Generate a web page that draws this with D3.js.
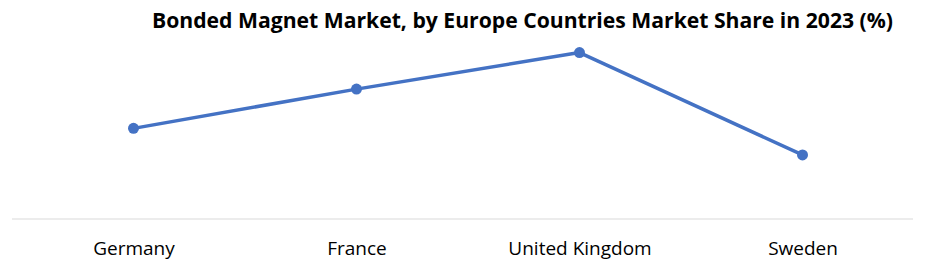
<!DOCTYPE html>
<html>
<head>
<meta charset="utf-8">
<script src="https://cdn.jsdelivr.net/npm/d3@7"></script>
<style>
  body { margin: 0; background: #fff; }
  text { font-family: "Liberation Sans Narrow", "Open Sans", sans-serif; }
</style>
</head>
<body>
<div class="chart"></div>
<script>
// Data
var countries = ['Germany', 'France', 'United Kingdom', 'Sweden'];
var shares = [20.1, 28.8, 36.9, 14.2];

var svgWidth = 936;
var svgHeight = 272;

var svg = d3.select('.chart')
  .append('svg')
  .attr('width', svgWidth)
  .attr('height', svgHeight);

// Title
svg.append('text')
  .attr('x', 152)
  .attr('y', 28)
  .attr('textLength', 741)
  .attr('lengthAdjust', 'spacingAndGlyphs')
  .style('font-size', '22px')
  .style('font-weight', 'bold')
  .attr('fill', '#000')
  .text('Bonded Magnet Market, by Europe Countries Market Share in 2023 (%)');

// Scales
var xScale = d3.scalePoint()
  .domain(countries)
  .range([22, 914])
  .padding(0.5);

var yScale = d3.scaleLinear()
  .domain([0, 40])
  .range([219, 38.6]);

// Baseline
svg.append('line')
  .attr('x1', 12)
  .attr('x2', 913)
  .attr('y1', yScale(0))
  .attr('y2', yScale(0))
  .attr('stroke', '#d9d9d9')
  .attr('stroke-width', 1);

// x axis labels
var xAxis = d3.axisBottom(xScale).tickSize(0).tickPadding(0);
var xAxisGroup = svg.append('g')
  .attr('transform', 'translate(0, 240)')
  .call(xAxis);
xAxisGroup.select('.domain').remove();
xAxisGroup.selectAll('text')
  .attr('dy', '0')
  .attr('y', 15)
  .attr('fill', '#000')
  .style('font-size', '19px');

// Line
var line = d3.line()
  .x((d, i) => xScale(countries[i]))
  .y(d => yScale(d));

svg.append('path')
  .datum(shares)
  .attr('d', line)
  .attr('fill', 'none')
  .attr('stroke', '#4472C4')
  .attr('stroke-width', 3.5)
  .attr('stroke-linejoin', 'round');

svg.selectAll('circle')
  .data(shares)
  .enter()
    .append('circle')
    .attr('cx', (d, i) => xScale(countries[i]))
    .attr('cy', d => yScale(d))
    .attr('r', 5.5)
    .attr('fill', '#4472C4');
</script>
</body>
</html>
